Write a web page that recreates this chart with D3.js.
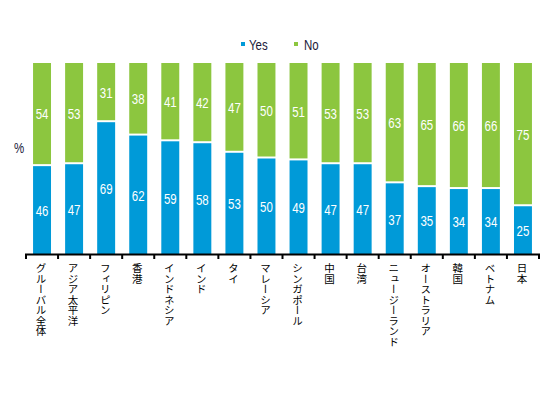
<!DOCTYPE html>
<html><head><meta charset="utf-8">
<script src="https://cdn.jsdelivr.net/npm/d3@7"></script>
<style>
body{margin:0;background:#fff;}
svg{display:block;}
</style></head>
<body>
<script>
const categories = ["グルーバル全体","アジア太平洋","フィリピン","香港","インドネシア","インド","タイ","マレーシア","シンガポール","中国","台湾","ニュージーランド","オーストラリア","韓国","ベトナム","日本"];
const yesValues = [46,47,69,62,59,58,53,50,49,47,47,37,35,34,34,25];
const noValues  = [54,53,31,38,41,42,47,50,51,53,53,63,65,66,66,75];
const seriesNames = ["Yes","No"];
const colors = {Yes:"#009ad8", No:"#8cc63f"};

const W=551,H=400;
const svg=d3.select("body").append("svg").attr("width",W).attr("height",H);
const x=d3.scaleBand().domain(categories).range([26,539]).paddingInner(0.44).paddingOuter(0.22);
const y=d3.scaleLinear().domain([0,100]).range([254,63]);
const numFont="'Liberation Sans', Arial, sans-serif";
const SX=0.82;

const data=categories.map((c,i)=>({c,yes:yesValues[i],no:noValues[i]}));
const g=svg.append("g");
g.selectAll("rect.yes").data(data).enter().append("rect")
 .attr("x",d=>x(d.c)).attr("width",x.bandwidth())
 .attr("y",d=>y(d.yes)).attr("height",d=>y(0)-y(d.yes))
 .attr("fill",colors.Yes);
g.selectAll("rect.no").data(data).enter().append("rect")
 .attr("x",d=>x(d.c)).attr("width",x.bandwidth())
 .attr("y",d=>y(d.yes+d.no)).attr("height",d=>y(d.yes)-y(d.yes+d.no)-2)
 .attr("fill",colors.No);
g.selectAll("text.yl").data(data).enter().append("text")
 .attr("transform",d=>`translate(${x(d.c)+x.bandwidth()/2},${(y(0)+y(d.yes))/2+1}) scale(${SX},1)`)
 .attr("text-anchor","middle").attr("dominant-baseline","central")
 .attr("fill","#fff").attr("font-family",numFont).attr("font-size",14).text(d=>d.yes);
g.selectAll("text.nl").data(data).enter().append("text")
 .attr("transform",d=>`translate(${x(d.c)+x.bandwidth()/2},${(y(d.yes)+y(d.yes+d.no))/2}) scale(${SX},1)`)
 .attr("text-anchor","middle").attr("dominant-baseline","central")
 .attr("fill","#fff").attr("font-family",numFont).attr("font-size",14).text(d=>d.no);

const axis=svg.append("g");
axis.append("line").attr("x1",25).attr("x2",540).attr("y1",254.5).attr("y2",254.5).attr("stroke","#000").attr("stroke-width",2);
const bounds=d3.range(categories.length+1).map(i=>26+i*x.step());
axis.selectAll("line.t").data(bounds).enter().append("line")
 .attr("x1",d=>d).attr("x2",d=>d).attr("y1",254).attr("y2",259).attr("stroke","#000").attr("stroke-width",2);
axis.selectAll("text").data(categories).enter().append("text")
 .attr("x",d=>x(d)+x.bandwidth()/2-1).attr("y",263)
 .style("writing-mode","vertical-rl").style("text-orientation","upright")
 .attr("font-family","'Noto Sans CJK JP', sans-serif").attr("font-size",10.5)
 .attr("fill","#000").text(d=>d);

svg.append("text").attr("transform",`translate(19,152.5) scale(${SX},1)`).attr("text-anchor","middle")
 .attr("font-family",numFont).attr("font-size",14).attr("fill","#1a1a3a").text("%");

const leg=svg.append("g");
const lx=[241,294];
seriesNames.forEach((s,i)=>{
  leg.append("rect").attr("x",lx[i]).attr("y",42).attr("width",4).attr("height",4).attr("fill",colors[s]);
  leg.append("text").attr("transform",`translate(${lx[i]+8+(i?2:0)},50) scale(${SX},1)`)
   .attr("font-family",numFont).attr("font-size",14).attr("fill","#1a1a3a").text(s);
});
</script>
</body></html>
